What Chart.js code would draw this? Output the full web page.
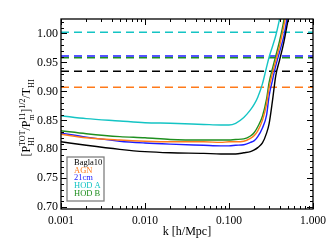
<!DOCTYPE html>
<html>
<head>
<meta charset="utf-8">
<script src="https://cdn.jsdelivr.net/npm/chart.js@4.4.1/dist/chart.umd.min.js"></script>
<style>
  html, body { margin: 0; padding: 0; background: #fff; }
</style>
</head>
<body>
<canvas id="chart" width="331" height="248"></canvas>
<script>
// k [h/Mpc] sample points shared by all the curves
const kValues = [0.001, 0.002, 0.005, 0.01, 0.02, 0.05, 0.08, 0.1, 0.12, 0.15, 0.18,
                 0.2, 0.22, 0.25, 0.28, 0.3, 0.33, 0.36, 0.4, 0.45, 0.5, 0.55];

// [P_HI^TOT / P_m^11]^(1/2) / T_HI
const bagla10 = [0.813, 0.807, 0.800, 0.796, 0.794, 0.793, 0.792, 0.792, 0.792, 0.794, 0.796,
                 0.799, 0.803, 0.811, 0.828, 0.844, 0.885, 0.927, 0.954, 0.985, 1.020, 1.049];
const agn     = [0.826, 0.820, 0.816, 0.814, 0.813, 0.813, 0.812, 0.813, 0.813, 0.814, 0.819,
                 0.824, 0.832, 0.850, 0.878, 0.906, 0.932, 0.953, 0.978, 1.013, 1.050, 1.090];
const cm21    = [0.828, 0.821, 0.814, 0.811, 0.809, 0.807, 0.806, 0.806, 0.807, 0.808, 0.812,
                 0.815, 0.822, 0.837, 0.859, 0.892, 0.920, 0.944, 0.968, 0.996, 1.034, 1.080];
const hodA    = [0.858, 0.853, 0.849, 0.846, 0.845, 0.843, 0.842, 0.842, 0.845, 0.855, 0.868,
                 0.878, 0.890, 0.913, 0.942, 0.959, 0.978, 0.996, 1.025, 1.060, 1.100, 1.150];
const hodB    = [0.832, 0.827, 0.822, 0.820, 0.817, 0.816, 0.816, 0.816, 0.817, 0.818, 0.823,
                 0.829, 0.839, 0.857, 0.887, 0.915, 0.940, 0.961, 0.987, 1.023, 1.070, 1.120];

const seriesNames = ['Bagla10', 'AGN', '21cm', 'HOD A', 'HOD B'];
// large scale (dashed) levels, same order as the names
const largeScale = [0.935, 0.907, 0.961, 1.002, 0.958];

const kRange = [0.001, 1];
const kTicks = [0.001, 0.01, 0.1, 1];
const yRange = [0.697, 1.025];
const yTicks = [0.70, 0.75, 0.80, 0.85, 0.90, 0.95, 1.00];

const curves = [bagla10, agn, cm21, hodA, hodB];
const colors = ['#000000', '#ff7a1a', '#1c1cff', '#14c4c4', '#1f8f1f'];
const serif = "'Liberation Serif', 'DejaVu Serif', serif";

// inward ticks on all four sides plus the box
const frameTicks = {
    id: 'frameTicks',
    afterDatasetsDraw(chart) {
        const { ctx, chartArea: a, scales: { x, y } } = chart;
        ctx.save();
        ctx.strokeStyle = '#000';
        ctx.lineWidth = 1;
        ctx.beginPath();
        for (let i = 70; i <= 102; i++) {
            const py = Math.round(y.getPixelForValue(i / 100)) + 0.5;
            const len = i % 5 === 0 ? 6 : 3;
            ctx.moveTo(a.left, py); ctx.lineTo(a.left + len, py);
            ctx.moveTo(a.right, py); ctx.lineTo(a.right - len, py);
        }
        kTicks.forEach((d, n) => {
            const mults = n < kTicks.length - 1 ? [1, 2, 3, 4, 5, 6, 7, 8, 9] : [1];
            mults.forEach(m => {
                const px = Math.round(x.getPixelForValue(d * m)) + 0.5;
                const len = m === 1 ? 6 : 3;
                ctx.moveTo(px, a.bottom); ctx.lineTo(px, a.bottom - len);
                ctx.moveTo(px, a.top); ctx.lineTo(px, a.top + len);
            });
        });
        ctx.stroke();
        ctx.lineWidth = 1.3;
        ctx.strokeRect(a.left, a.top, a.right - a.left, a.bottom - a.top);
        ctx.restore();
    },
    afterDraw(chart) {
        const { ctx, chartArea: a } = chart;
        ctx.save();
        ctx.fillStyle = '#000';

        // x title
        ctx.font = '12px ' + serif;
        ctx.textAlign = 'center';
        ctx.textBaseline = 'middle';
        ctx.fillText('k [h/Mpc]', (a.left + a.right) / 2, 232);

        // y title with sub/superscripts, rotated
        const parts = [
            { base: '[P', sup: 'TOT', sub: 'HI' },
            { base: '/P', sup: '11', sub: 'm' },
            { base: ']', sup: '1/2' },
            { base: '/T', sub: 'HI' }
        ];
        const big = '12px ' + serif, small = '8px ' + serif;
        let total = 0;
        const widths = parts.map(p => {
            ctx.font = big;
            const bw = ctx.measureText(p.base).width;
            ctx.font = small;
            const sw = Math.max(p.sup ? ctx.measureText(p.sup).width : 0,
                                p.sub ? ctx.measureText(p.sub).width : 0);
            total += bw + sw;
            return [bw, sw];
        });
        ctx.translate(30, (a.top + a.bottom) / 2 + 4);
        ctx.rotate(-Math.PI / 2);
        ctx.textAlign = 'left';
        ctx.textBaseline = 'alphabetic';
        let cx = -total / 2;
        parts.forEach((p, i) => {
            ctx.font = big;
            ctx.fillText(p.base, cx, 0);
            cx += widths[i][0];
            ctx.font = small;
            if (p.sup) ctx.fillText(p.sup, cx, -5.5);
            if (p.sub) ctx.fillText(p.sub, cx, 3.5);
            cx += widths[i][1];
        });
        ctx.setTransform(1, 0, 0, 1, 0, 0);

        // legend box with coloured names
        const bx = a.left + 6, by = 157, bw = 37, bh = 44;
        ctx.strokeStyle = '#808080';
        ctx.lineWidth = 1.3;
        ctx.strokeRect(bx, by, bw, bh);
        ctx.font = '8.5px ' + serif;
        ctx.textBaseline = 'middle';
        seriesNames.forEach((name, i) => {
            ctx.fillStyle = colors[i];
            ctx.fillText(name, bx + 7, by + 5.5 + i * 7.8);
        });
        ctx.restore();
    }
};

const datasets = curves.map((vals, i) => ({
    label: seriesNames[i],
    data: vals.map((v, j) => ({ x: kValues[j], y: v })),
    borderColor: colors[i],
    borderWidth: 1.4,
    pointRadius: 0,
    cubicInterpolationMode: 'monotone',
    fill: false
})).concat(largeScale.map((lv, i) => ({
    label: seriesNames[i] + ' large scale',
    data: kRange.map(k => ({ x: k, y: lv })),
    borderColor: colors[i],
    borderWidth: 1.5,
    borderDash: [8, 5],
    pointRadius: 0,
    fill: false
})));

new Chart(document.getElementById('chart'), {
    type: 'line',
    data: { datasets: datasets },
    options: {
        responsive: false,
        animation: false,
        layout: { padding: { left: 0, right: 18, top: 19, bottom: 0 } },
        plugins: { legend: { display: false }, tooltip: { enabled: false } },
        scales: {
            x: {
                type: 'logarithmic',
                min: kRange[0],
                max: kRange[1],
                grid: { display: false, drawTicks: false },
                border: { display: false },
                afterBuildTicks: s => { s.ticks = kTicks.map(v => ({ value: v })); },
                afterFit: s => { s.height = 39; },
                ticks: {
                    autoSkip: false,
                    maxRotation: 0,
                    padding: 5,
                    color: '#000',
                    font: { family: serif, size: 11.5 },
                    callback: v => Number(v).toFixed(3)
                }
            },
            y: {
                min: yRange[0],
                max: yRange[1],
                grid: { display: false, drawTicks: false },
                border: { display: false },
                afterBuildTicks: s => { s.ticks = yTicks.map(v => ({ value: v })); },
                afterFit: s => { s.width = 61; },
                ticks: {
                    padding: 3,
                    color: '#000',
                    font: { family: serif, size: 12 },
                    callback: v => Number(v).toFixed(2)
                }
            }
        }
    },
    plugins: [frameTicks]
});
</script>
</body>
</html>
